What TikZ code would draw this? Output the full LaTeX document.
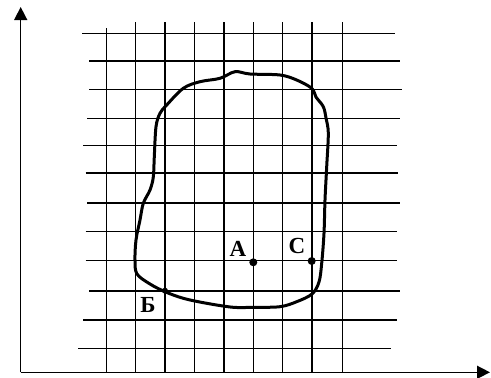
\documentclass[tikz,border=0pt]{standalone}
\usepackage{fontspec}
\setmainfont{Liberation Serif}
\usetikzlibrary{arrows.meta}
\tikzset{
  gridline/.style={line width=1.5pt, black},
  axis/.style={line width=1.5pt, -{Triangle[length=13pt,width=13pt]}},
  contour/.style={line width=3pt, line join=round},
  dot/.style={circle, fill, inner sep=0pt, minimum size=8pt},
  lbl/.style={font=\fontsize{23}{23}\selectfont\bfseries, inner sep=0pt},
}
\begin{document}
\begin{tikzpicture}[x=1pt,y=-1pt]
\useasboundingbox (0,0) rectangle (491,378);
% vertical grid lines
\draw[gridline] (106.7,28.3) -- (106.7,372);
\foreach \x in {135.7,165,194.3,224,253.3,282.7,312,342.3}
  \draw[gridline] (\x,22.3) -- (\x,372);
% horizontal grid lines
\foreach \y/\a/\b in {33.7/82.3/395, 61/89.3/400, 89.7/89.3/402.3, 118.3/87.3/400,
  145.7/83.3/396.7, 173/85.7/398.3, 203/87.3/400, 231.7/85.7/396.7,
  260.7/85.7/396.7, 291/89.3/400, 320/83.3/396.7, 348.7/78.3/391}
  \draw[gridline] (\a,\y) -- (\b,\y);
% axes
\coordinate (O) at (20.7,372.3);
\coordinate (Ytip) at (20.7,7);
\coordinate (Xtip) at (490,372.3);
\draw[axis] (O) -- (Ytip);
\draw[axis] (O) -- (Xtip);
% contour
\draw[contour] plot[smooth cycle, tension=0.55] coordinates {
 (235,71.7) (250,74) (280,75) (296.7,80) (311.7,88.3) (316,97) (323.3,106.7)
 (326,118) (328.3,133.3) (326.7,166.7) (325,200) (324,233.3) (321.7,263.3)
 (319,282) (312,294) (296.7,301.7) (280,306.7) (253.3,307.3) (233.3,307.3)
 (206.7,303.3) (183.3,298.3) (165,291.7) (150,284) (137,274) (135,260)
 (136,240) (140,220) (143.3,203.3) (150,190) (153.3,177) (154.3,156.7)
 (156,126.7) (160,113.3) (166.7,105) (183.3,88.3) (200,81.7) (220,78.3)};
% points
\node[dot] (A) at (253.3,262.3) {};
\node[dot] (C) at (311.7,261) {};
\node[dot, minimum size=6pt] (B) at (165,290.7) {};
\node[lbl] (lA) at (238,249) {A};
\node[lbl] (lC) at (297,246) {C};
\node[lbl] (lB) at (148,305) {Б};
\end{tikzpicture}
\end{document}
